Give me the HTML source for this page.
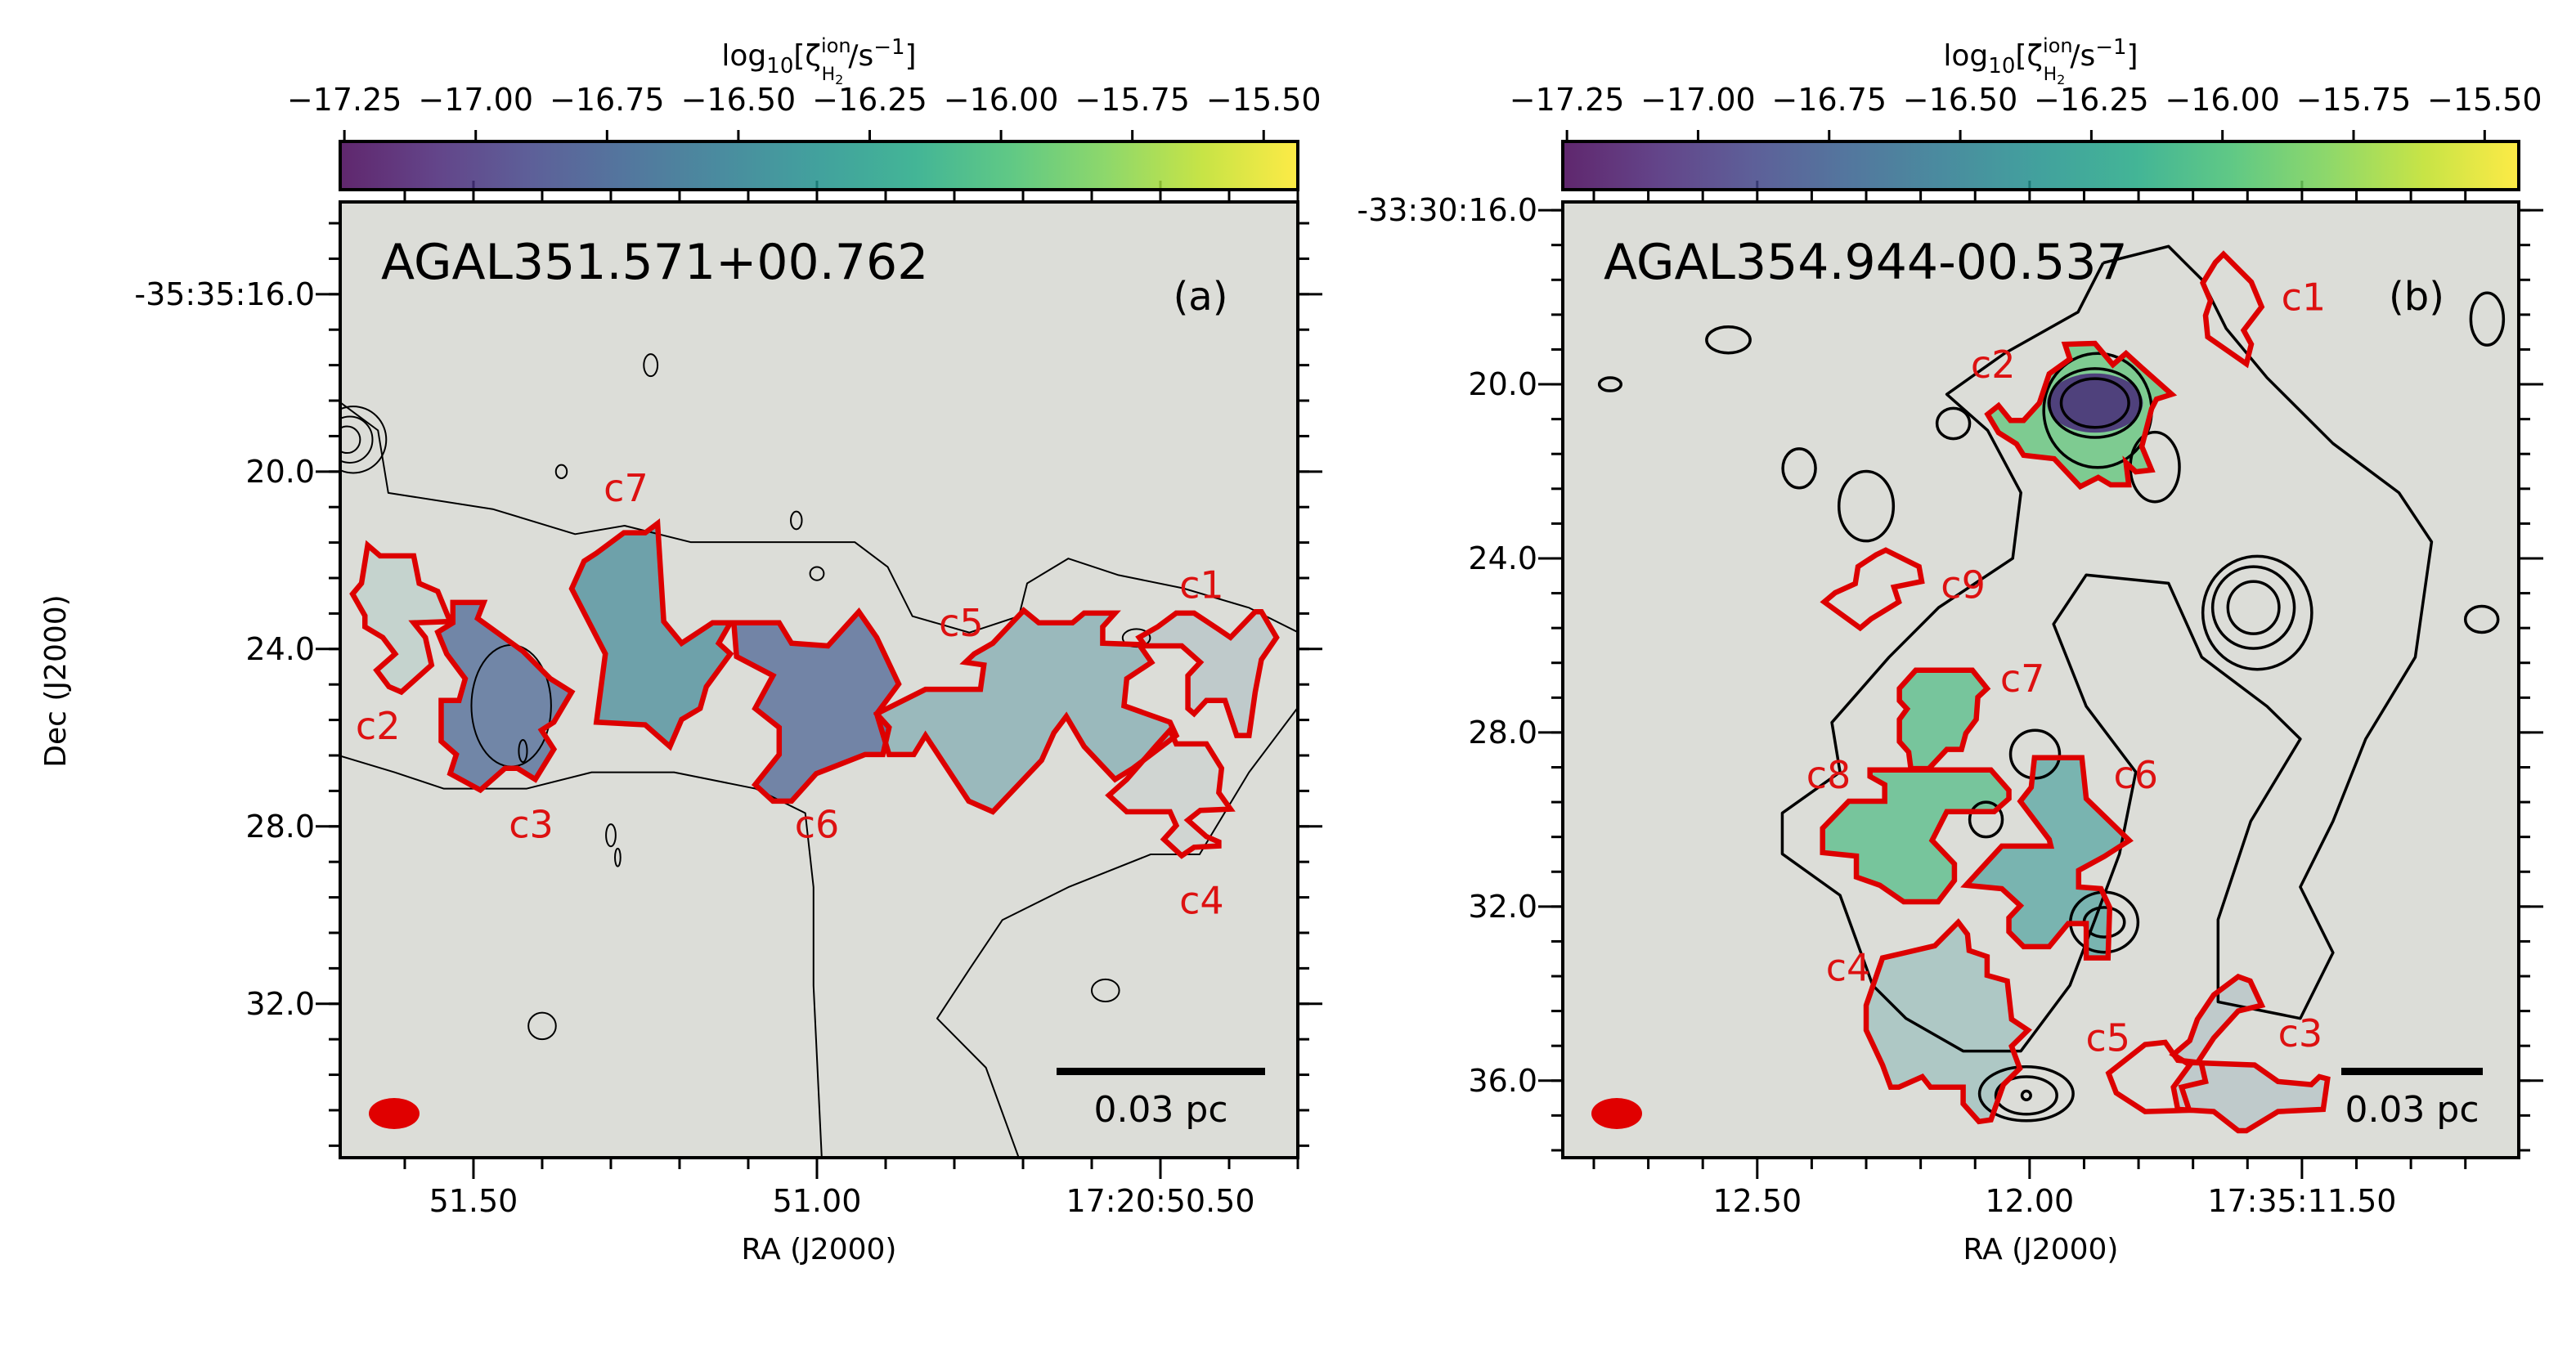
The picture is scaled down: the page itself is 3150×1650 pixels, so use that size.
<!DOCTYPE html>
<html><head><meta charset="utf-8"><style>
html,body{margin:0;padding:0;background:#fff;}
svg{display:block;font-family:"DejaVu Sans","Liberation Sans",sans-serif;}
</style></head><body>
<svg id="fig" xmlns="http://www.w3.org/2000/svg" width="3150" height="1650" viewBox="0 0 3150 1650">
<defs>
<linearGradient id="vir" x1="0" x2="1" y1="0" y2="0">
<stop offset="0" stop-color="#440154"/><stop offset="0.1" stop-color="#482475"/><stop offset="0.2" stop-color="#414487"/><stop offset="0.3" stop-color="#355f8d"/><stop offset="0.4" stop-color="#2a788e"/><stop offset="0.5" stop-color="#21918c"/><stop offset="0.6" stop-color="#22a884"/><stop offset="0.7" stop-color="#44bf70"/><stop offset="0.8" stop-color="#7ad151"/><stop offset="0.9" stop-color="#bddf26"/><stop offset="1" stop-color="#fde725"/>
</linearGradient>
<clipPath id="clipA"><rect x="416" y="247" width="1171" height="1169"/></clipPath>
<clipPath id="clipB"><rect x="1911" y="247" width="1169" height="1169"/></clipPath>
</defs>
<g id="root"></g>
</svg>
<script>
// ---------- data ----------
const cbarTicks = [-17.25,-17.00,-16.75,-16.50,-16.25,-16.00,-15.75,-15.50];
const cbarTickLabels = ["\u221217.25","\u221217.00","\u221216.75","\u221216.50","\u221216.25","\u221216.00","\u221215.75","\u221215.50"];
const cbarMin = -17.258, cbarMax = -15.435;

const aDecTicks = [16,20,24,28,32];
const aDecLabels = ["-35:35:16.0","20.0","24.0","28.0","32.0"];
const aRaTicks = [51.5,51.0,50.5];
const aRaLabels = ["51.50","51.00","17:20:50.50"];
const bDecTicks = [16,20,24,28,32,36];
const bDecLabels = ["-33:30:16.0","20.0","24.0","28.0","32.0","36.0"];
const bRaTicks = [12.5,12.0,11.5];
const bRaLabels = ["12.50","12.00","17:35:11.50"];

// Panel (a) clumps: [RA s, Dec arcsec]
const aClumpNames = ["c1","c2","c3","c4","c5","c6","c7"];
const aClumpZeta = [-16.6,-16.4,-16.75,-16.6,-16.5,-16.78,-16.5];
const aClumpCover = [0.2,0.15,0.8,0.08,0.45,0.8,0.75];
const aClumpPolys = [
 [[50.477,23.19],[50.451,23.19],[50.415,23.56],[50.398,23.74],[50.362,23.16],[50.353,23.16],[50.331,23.74],[50.353,24.24],[50.362,24.97],[50.371,25.95],[50.389,25.95],[50.406,25.16],[50.433,25.16],[50.451,25.46],[50.460,25.34],[50.460,24.60],[50.442,24.30],[50.469,23.93],[50.522,23.93],[50.531,23.74],[50.504,23.50]],
 [[51.654,21.66],[51.636,21.90],[51.587,21.90],[51.579,22.52],[51.552,22.70],[51.534,23.38],[51.587,23.41],[51.570,23.74],[51.561,24.36],[51.605,24.97],[51.623,24.85],[51.641,24.48],[51.614,24.11],[51.632,23.74],[51.658,23.50],[51.658,23.25],[51.676,22.76],[51.663,22.52]],
 [[51.530,22.95],[51.485,22.95],[51.494,23.31],[51.428,24.05],[51.388,24.67],[51.357,24.97],[51.383,25.65],[51.401,25.83],[51.383,26.26],[51.410,26.94],[51.436,26.69],[51.454,26.69],[51.490,27.18],[51.534,26.81],[51.525,26.38],[51.547,26.08],[51.547,25.16],[51.521,25.16],[51.512,24.67],[51.539,24.11],[51.552,23.62],[51.530,23.41]],
 [[50.504,26.14],[50.486,25.83],[50.477,26.14],[50.433,26.14],[50.411,26.69],[50.415,27.24],[50.398,27.61],[50.442,27.64],[50.460,27.86],[50.433,28.23],[50.415,28.35],[50.415,28.44],[50.451,28.47],[50.469,28.66],[50.495,28.29],[50.477,27.98],[50.486,27.67],[50.549,27.67],[50.575,27.30],[50.549,26.94]],
 [[50.699,23.13],[50.677,23.41],[50.628,23.41],[50.611,23.19],[50.566,23.19],[50.584,23.50],[50.584,23.87],[50.531,23.90],[50.513,24.30],[50.549,24.67],[50.553,25.28],[50.486,25.65],[50.477,25.95],[50.540,26.69],[50.566,26.94],[50.611,26.20],[50.637,25.52],[50.655,25.89],[50.673,26.51],[50.744,27.67],[50.779,27.43],[50.842,25.95],[50.859,26.38],[50.895,26.38],[50.913,25.46],[50.842,24.91],[50.762,24.91],[50.757,24.36],[50.784,24.30],[50.771,24.11],[50.744,23.87]],
 [[51.121,23.41],[51.055,23.41],[51.037,23.87],[50.984,23.93],[50.939,23.16],[50.913,23.74],[50.881,24.79],[50.913,25.46],[50.895,25.77],[50.904,26.38],[50.930,26.38],[51.001,26.81],[51.037,27.43],[51.064,27.43],[51.090,27.06],[51.055,26.38],[51.055,25.77],[51.090,25.34],[51.064,24.60],[51.117,24.17]],
 [[51.232,21.17],[51.223,23.38],[51.197,23.87],[51.152,23.41],[51.126,23.41],[51.143,23.87],[51.126,24.11],[51.161,24.85],[51.170,25.34],[51.197,25.59],[51.214,26.20],[51.250,25.71],[51.321,25.65],[51.308,24.11],[51.357,22.64],[51.339,22.02],[51.321,21.84],[51.281,21.38],[51.250,21.38]]
];
const aLabelPos = [[50.440,22.56],[51.639,25.74],[51.416,27.96],[50.440,29.67],[50.790,23.41],[51.000,27.96],[51.278,20.37]];

// Panel (a) continuum contours (open lines)
const aContours = [
 [[51.694,18.44],[51.639,19.07],[51.624,20.48],[51.471,20.85],[51.352,21.41],[51.280,21.22],[51.184,21.59],[51.065,21.59],[50.945,21.59],[50.897,22.15],[50.861,23.26],[50.778,23.63],[50.706,23.26],[50.694,22.52],[50.634,21.96],[50.562,22.33],[50.467,22.63],[50.371,23.07],[50.299,23.63]],
 [[50.299,25.30],[50.371,26.78],[50.443,28.63],[50.514,28.63],[50.634,29.37],[50.730,30.11],[50.778,31.22],[50.825,32.33],[50.754,33.44],[50.706,35.48]],
 [[51.694,26.41],[51.615,26.78],[51.543,27.15],[51.423,27.15],[51.328,26.78],[51.208,26.78],[51.089,27.15],[51.017,27.70],[51.005,29.37],[51.005,31.59],[50.993,35.48]]
];
// ellipses: [RA, Dec, rRA(s), rDec(arcsec)]
const aEllipses = [[51.675,19.28,0.048,0.75],[51.680,19.28,0.033,0.52],[51.684,19.28,0.019,0.3],[51.445,25.28,0.058,1.37],[51.428,26.3,0.006,0.25],[51.372,20.0,0.008,0.15],[51.242,17.6,0.01,0.25],[51.03,21.1,0.008,0.2],[51.0,22.3,0.01,0.15],[50.535,23.75,0.02,0.2],[51.3,28.2,0.007,0.25],[51.29,28.7,0.004,0.2],[51.4,32.5,0.02,0.3],[50.58,31.7,0.02,0.25]];

// Panel (b) clumps
const bClumpNames = ["c1","c2","c3","c4","c5","c6","c7","c8","c9"];
const bClumpZeta = [-16.5,-15.95,-16.6,-16.4,-16.5,-16.35,-16.05,-16.05,-16.5];
const bClumpCover = [0,0.8,0.2,0.3,0,0.65,0.75,0.75,0];
const bClumpPolys = [
 [[11.644,17.01],[11.593,17.65],[11.574,18.22],[11.607,18.76],[11.593,19.08],[11.602,19.53],[11.673,18.91],[11.677,18.42],[11.668,18.08],[11.682,17.67],[11.659,17.20]],
 [[11.935,19.08],[11.880,19.06],[11.847,19.55],[11.823,19.29],[11.794,19.62],[11.739,20.23],[11.767,20.34],[11.776,20.56],[11.794,21.43],[11.776,21.97],[11.805,22.01],[11.823,21.80],[11.818,22.31],[11.851,22.31],[11.874,22.14],[11.907,22.35],[11.955,21.71],[12.011,21.63],[12.024,21.37],[12.057,21.11],[12.077,20.69],[12.057,20.49],[12.035,20.83],[12.011,20.83],[11.982,20.43],[11.964,19.76],[11.926,19.42]],
 [[11.617,33.61],[11.595,33.71],[11.574,34.27],[11.617,34.40],[11.662,35.02],[11.692,35.59],[11.587,35.64],[11.544,36.02],[11.483,36.09],[11.468,35.91],[11.453,35.96],[11.461,36.66],[11.544,36.71],[11.602,37.15],[11.617,37.15],[11.662,36.71],[11.728,36.66],[11.736,36.15],[11.706,35.64],[11.736,35.40],[11.706,35.08],[11.692,34.59],[11.662,34.03]],
 [[12.131,32.36],[12.114,32.64],[12.111,33.01],[12.078,33.15],[12.078,33.58],[12.041,33.71],[12.033,34.59],[12.003,34.84],[12.033,35.21],[12.018,35.72],[12.048,36.09],[12.071,36.90],[12.093,36.94],[12.122,36.53],[12.122,36.15],[12.182,36.15],[12.197,35.91],[12.240,36.15],[12.255,36.15],[12.270,35.64],[12.300,34.84],[12.300,34.27],[12.270,33.18],[12.225,33.05],[12.174,32.90]],
 [[11.788,35.17],[11.751,35.12],[11.728,35.53],[11.685,35.59],[11.677,36.02],[11.721,36.15],[11.707,36.68],[11.788,36.71],[11.841,36.28],[11.855,35.83]],
 [[11.991,28.58],[11.904,28.58],[11.896,29.52],[11.817,30.48],[11.863,30.85],[11.910,31.17],[11.910,31.55],[11.869,31.59],[11.853,32.02],[11.856,33.18],[11.896,33.18],[11.896,32.39],[11.929,32.39],[11.964,32.92],[12.011,32.92],[12.038,32.58],[12.038,32.26],[12.017,31.98],[12.051,31.59],[12.117,31.51],[12.051,30.61],[11.961,30.61],[11.964,30.46],[12.017,29.58],[11.997,29.26]],
 [[12.209,26.57],[12.105,26.57],[12.078,26.99],[12.095,27.19],[12.098,27.70],[12.117,28.02],[12.125,28.39],[12.152,28.39],[12.185,28.83],[12.218,28.83],[12.222,28.45],[12.239,28.21],[12.239,27.70],[12.225,27.46],[12.239,27.27],[12.239,26.99]],
 [[12.293,28.86],[12.071,28.86],[12.038,29.33],[12.038,29.52],[12.065,29.82],[12.152,29.82],[12.179,30.48],[12.138,31.02],[12.138,31.40],[12.168,31.89],[12.231,31.89],[12.275,31.51],[12.318,31.32],[12.318,30.84],[12.380,30.76],[12.380,30.20],[12.332,29.58],[12.266,29.58],[12.266,29.20],[12.293,29.01]],
 [[12.264,23.81],[12.203,24.19],[12.198,24.53],[12.249,24.66],[12.240,25.00],[12.291,25.39],[12.311,25.60],[12.377,25.00],[12.357,24.79],[12.320,24.58],[12.315,24.19],[12.282,23.92]]
];
const bLabelPos = [[11.497,18.00],[12.067,19.55],[11.503,34.91],[12.333,33.40],[11.856,35.02],[11.805,28.98],[12.013,26.76],[12.369,28.98],[12.122,24.61]];
// c2 core (deep purple): [RA, Dec, rRA, rDec, zeta]
const bCore = [11.880,20.43,0.088,0.68,-17.05];

const bContours = [
 [[11.865,17.21],[11.911,18.34],[12.046,19.29],[12.152,20.23],[12.077,21.06],[12.016,22.49],[12.031,24.00],[12.167,25.13],[12.258,26.27],[12.363,27.77],[12.348,28.91],[12.454,29.85],[12.454,30.79],[12.348,31.74],[12.288,33.81],[12.227,34.57],[12.122,35.32],[12.016,35.32],[11.926,33.81],[11.880,32.30],[11.835,30.79],[11.805,28.91],[11.896,27.40],[11.956,25.51],[11.896,24.38],[11.745,24.57],[11.684,26.27],[11.564,27.40],[11.503,28.15],[11.594,30.04],[11.654,32.30],[11.654,34.19],[11.503,34.57],[11.443,33.06],[11.503,31.55],[11.443,30.04],[11.383,28.15],[11.292,26.27],[11.262,23.62],[11.322,22.49],[11.443,21.36],[11.564,19.85],[11.639,18.72],[11.684,17.59],[11.745,16.83],[11.865,17.21]]
];
const bEllipses = [[11.880,20.43,0.062,0.56],[11.880,20.43,0.084,0.79],[11.875,20.6,0.099,1.31],[11.589,25.13,0.047,0.6],[11.589,25.13,0.075,0.94],[11.582,25.25,0.10,1.3],[12.006,36.34,0.008,0.1],[12.006,36.34,0.056,0.43],[12.006,36.30,0.086,0.62],[11.863,32.36,0.037,0.34],[11.863,32.36,0.062,0.69],[11.77,21.9,0.045,0.8],[12.77,20.0,0.02,0.15],[12.553,18.98,0.04,0.3],[12.423,21.93,0.03,0.45],[12.30,22.8,0.05,0.8],[12.14,20.9,0.03,0.35],[11.99,28.5,0.045,0.55],[12.08,30.0,0.03,0.4],[11.17,25.4,0.03,0.3],[11.16,18.5,0.03,0.6]];

// ---------- helpers ----------
const NS = "http://www.w3.org/2000/svg";
const root = document.getElementById('root');
function el(tag, attrs, parent){const e=document.createElementNS(NS,tag);for(const k in attrs)e.setAttribute(k,attrs[k]);(parent||root).appendChild(e);return e;}
function makeAxis(p0,p1,d0,d1){return v=>p0+(v-d0)/(d1-d0)*(p1-p0);}
const VIR=[[68,1,84],[72,36,117],[65,68,135],[53,95,141],[42,120,142],[33,145,140],[34,168,132],[68,191,112],[122,209,81],[189,223,38],[253,231,37]];
function viridis(v){let t=(v-cbarMin)/(cbarMax-cbarMin);t=Math.max(0,Math.min(1,t))*10;const i=Math.min(9,Math.floor(t)),f=t-i;const c=VIR[i].map((a,k)=>Math.round(a+(VIR[i+1][k]-a)*f));return `rgb(${c[0]},${c[1]},${c[2]})`;}
const MAP_ALPHA = 0.82;

function drawPanel(cfg){
  const {x0,x1,y0,y1,xs,ys,id} = cfg;
  const g = el('g',{});
  
  
  const bg = el('rect',{x:x0,y:y0,width:x1-x0,height:y1-y0,fill:'#dcddd8'},g);
  
  
  const dg = el('g',{'clip-path':`url(#${cfg.clip})`},g);
  cfg.polys.forEach((p,i)=>{
    if(cfg.cover[i]<=0) return;
    const poly = el('polygon',{points:p.map(q=>xs(q[0])+','+ys(q[1])).join(' '),fill:viridis(cfg.zeta[i]),'fill-opacity':cfg.cover[i]*MAP_ALPHA},dg);
    
    
  });
  if(cfg.core){
    const c=cfg.core;
    const e = el('ellipse',{cx:xs(c[0]),cy:ys(c[1]),rx:Math.abs(xs(c[0]+c[2])-xs(c[0])),ry:Math.abs(ys(c[1]+c[3])-ys(c[1])),fill:viridis(c[4]),'fill-opacity':0.85},dg);
    
    
  }
  cfg.contours.forEach((c,i)=>{
    const pl = el('polyline',{points:c.map(q=>xs(q[0])+','+ys(q[1])).join(' '),fill:'none',stroke:'#000','stroke-width':cfg.lw,'stroke-linejoin':'round'},dg);
    
    
  });
  cfg.ellipses.forEach(c=>{
    const e = el('ellipse',{cx:xs(c[0]),cy:ys(c[1]),rx:Math.abs(xs(c[0]+c[2])-xs(c[0])),ry:Math.abs(ys(c[1]+c[3])-ys(c[1])),fill:'none',stroke:'#000','stroke-width':cfg.lw},dg);
    
    
  });
  cfg.polys.forEach((p,i)=>{
    const poly = el('polygon',{points:p.map(q=>xs(q[0])+','+ys(q[1])).join(' '),fill:'none',stroke:'#dd0000','stroke-width':6.5,'stroke-linejoin':'miter'},dg);
    
    
  });
  cfg.labels.forEach((p,i)=>{
    const t = el('text',{x:xs(p[0]),y:ys(p[1]),'font-size':46,fill:'#dd1111','text-anchor':'middle','dominant-baseline':'central'},dg);
    t.textContent = cfg.names[i];
    
    
  });
  const tt = el('text',{x:x0+50,y:y0+94,'font-size':60,fill:'#000'},g);
  tt.textContent = cfg.title;
  
  
  const pt = el('text',{x:cfg.tagX,y:y0+132,'font-size':48,fill:'#000','text-anchor':'middle'},g);
  pt.textContent = cfg.tag;
  
  
  const bm = el('ellipse',{cx:x0+66,cy:1362,rx:31,ry:19,fill:'#e00000'},g);
  
  
  const sb = el('rect',{x:cfg.sb[0],y:1306,width:cfg.sb[1]-cfg.sb[0],height:9,fill:'#000'},g);
  
  
  const st = el('text',{x:(cfg.sb[0]+cfg.sb[1])/2,y:1372,'font-size':44,'text-anchor':'middle',fill:'#000'},g);
  st.textContent='0.03 pc';
  
  
  const tk = el('g',{stroke:'#000','stroke-width':3},g);
  
  
  for(let d=Math.ceil(cfg.dmin/0.8)*0.8; d<=cfg.dmax; d+=0.8){
    const y=ys(d); if(y<y0||y>y1) continue;
    el('line',{x1:x0-14,x2:x0,y1:y,y2:y},tk); el('line',{x1:x1,x2:x1+14,y1:y,y2:y},tk);
  }
  cfg.decTicks.forEach((d,i)=>{
    const y=ys(d);
    el('line',{x1:x0-30,x2:x0,y1:y,y2:y},tk); el('line',{x1:x1,x2:x1+30,y1:y,y2:y},tk);
    const t=el('text',{x:x0-31,y:y,'font-size':38,'text-anchor':'end','dominant-baseline':'central',fill:'#000'},g);
    t.textContent=cfg.decLabels[i];
    
    
  });
  for(let r=Math.round(cfg.rmin*10)/10; r>=cfg.rmax; r=Math.round((r-0.1)*10)/10){
    const x=xs(r); if(x<x0||x>x1) continue;
    const major = cfg.raTicks.some(m=>Math.abs(m-r)<1e-6);
    const L = major?26:14;
    el('line',{x1:x,x2:x,y1:y1,y2:y1+L},tk); el('line',{x1:x,x2:x,y1:y0-L,y2:y0},tk);
  }
  cfg.raTicks.forEach((r,i)=>{
    const t=el('text',{x:xs(r),y:1482,'font-size':38,'text-anchor':'middle',fill:'#000'},g);
    t.textContent=cfg.raLabels[i];
    
    
  });
  const fr = el('rect',{x:x0,y:y0,width:x1-x0,height:y1-y0,fill:'none',stroke:'#000','stroke-width':4},g);
  
  
  const xl = el('text',{x:(x0+x1)/2,y:1540,'font-size':36,'text-anchor':'middle',fill:'#000'},g);
  xl.textContent='RA (J2000)';
  
  
  const cb = el('g',{},g);
  
  
  el('rect',{x:x0,y:173,width:x1-x0,height:59,fill:'url(#vir)','fill-opacity':0.85},cb);
  el('rect',{x:x0,y:173,width:x1-x0,height:59,fill:'none',stroke:'#000','stroke-width':4},cb);
  const cx = makeAxis(x0,x1,cbarMin,cbarMax);
  cbarTicks.forEach((v,i)=>{
    el('line',{x1:cx(v),x2:cx(v),y1:159,y2:173,stroke:'#000','stroke-width':3},cb);
    const t=el('text',{x:cx(v),y:135,'font-size':38,'text-anchor':'middle',fill:'#000'},cb);
    t.textContent=cbarTickLabels[i];
    
    
  });
  const ct = el('text',{x:(x0+x1)/2,y:80,'font-size':36,'text-anchor':'middle',fill:'#000'},cb);
  ct.innerHTML='log<tspan font-size="26" dy="9">10</tspan><tspan dy="-9">[ζ</tspan><tspan font-size="24" dy="-16">ion</tspan><tspan font-size="22" dx="-36" dy="34">H</tspan><tspan font-size="16" dy="5">2</tspan><tspan dy="-23" dx="6">/s</tspan><tspan font-size="26" dy="-14">−1</tspan><tspan dy="14">]</tspan>';
  
  
}

drawPanel({id:'panel-a',x0:416,x1:1587,y0:247,y1:1416,clip:'clipA',
  xs:makeAxis(416,1587,51.694,50.300), ys:makeAxis(247,1416,13.92,35.47),
  polys:aClumpPolys,names:aClumpNames,zeta:aClumpZeta,cover:aClumpCover,labels:aLabelPos,
  contours:aContours,ellipses:aEllipses,lw:2,title:'AGAL351.571+00.762',tag:'(a)',tagX:1468,
  sb:[1292,1547],decTicks:aDecTicks,decLabels:aDecLabels,raTicks:aRaTicks,raLabels:aRaLabels,
  dmin:13.92,dmax:35.47,rmin:51.694,rmax:50.300});
drawPanel({id:'panel-b',x0:1911,x1:3080,y0:247,y1:1416,clip:'clipB',
  xs:makeAxis(1911,3080,12.857,11.102), ys:makeAxis(247,1416,15.81,37.77),
  polys:bClumpPolys,names:bClumpNames,zeta:bClumpZeta,cover:bClumpCover,labels:bLabelPos,core:bCore,
  contours:bContours,ellipses:bEllipses,lw:3.5,title:'AGAL354.944-00.537',tag:'(b)',tagX:2955,
  sb:[2863,3036],decTicks:bDecTicks,decLabels:bDecLabels,raTicks:bRaTicks,raLabels:bRaLabels,
  dmin:15.81,dmax:37.77,rmin:12.857,rmax:11.102});

const yl = el('text',{x:80,y:833,'font-size':36,'text-anchor':'middle',fill:'#000',transform:'rotate(-90 80 833)'});
yl.textContent='Dec (J2000)';


</script>
</body></html>
